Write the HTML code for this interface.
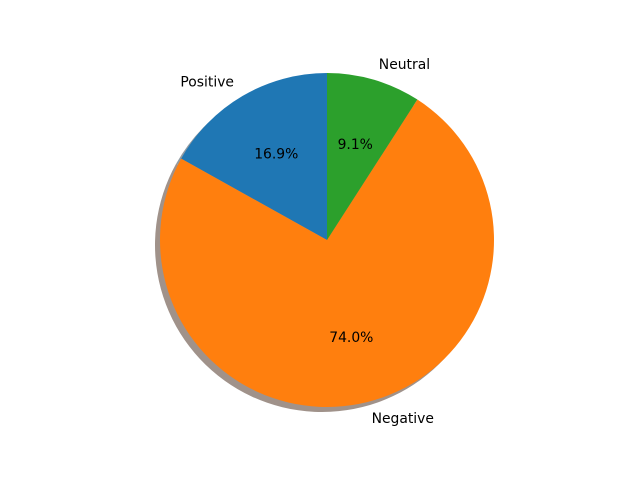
<!DOCTYPE html>
<html><head><meta charset="utf-8"><style>
html,body{margin:0;padding:0;background:#fff;}
svg{display:block;font-family:"DejaVu Sans","Liberation Sans",sans-serif;}
</style></head><body>
<svg id="chart" width="640" height="480" viewBox="0 0 640 480">
<rect width="640" height="480" fill="#fff"/>
<g id="shadows"></g>
<g id="wedges"></g>
<g id="labels"></g>
</svg>
<script>
const categories = ["Positive", "Negative", "Neutral"];
const values = [16.9, 74.0, 9.1];
const colors = ["#1f77b4", "#ff7f0e", "#2ca02c"];
const shadowColors = ["#8f9aa2", "#a0928a", "#969c8e"];
const cx = 327, cy = 240, R = 167, startAngle = 90;
const NS = "http://www.w3.org/2000/svg";
const total = values.reduce((a,b)=>a+b,0);
function pt(deg, r, ox, oy){const a=deg*Math.PI/180;return [cx+ox+r*Math.cos(a), cy+oy-r*Math.sin(a)];}
function arc(a0,a1,ox,oy){
  const p0=pt(a0,R,ox,oy), p1=pt(a1,R,ox,oy);
  const large=(a1-a0)>180?1:0;
  return `M${cx+ox},${cy+oy} L${p0[0]},${p0[1]} A${R},${R} 0 ${large} 0 ${p1[0]},${p1[1]} Z`;
}
const sg=document.getElementById('shadows'), wg=document.getElementById('wedges'), lg=document.getElementById('labels');
let a=startAngle;
values.forEach((v,i)=>{
  const span=v/total*360, a0=a, a1=a+span, mid=(a0+a1)/2;
  const s=document.createElementNS(NS,'path');
  s.setAttribute('d',arc(a0,a1,-5,5));
  s.setAttribute('fill',shadowColors[i]);
  
  
  sg.appendChild(s);
  const w=document.createElementNS(NS,'path');
  w.setAttribute('d',arc(a0,a1,0,0));
  w.setAttribute('fill',colors[i]);
  
  
  wg.appendChild(w);
  const lp=pt(mid,R*1.1,0,0);
  const t=document.createElementNS(NS,'text');
  t.setAttribute('x',lp[0]); t.setAttribute('y',lp[1]+5);
  t.setAttribute('font-size','13.9');
  t.setAttribute('text-anchor',Math.cos(mid*Math.PI/180)<0?'end':'start');
  t.textContent=categories[i];
  
  
  lg.appendChild(t);
  const pp=pt(mid,R*0.6,0,0);
  const p=document.createElementNS(NS,'text');
  p.setAttribute('x',pp[0]); p.setAttribute('y',pp[1]+5);
  p.setAttribute('font-size','13.9');
  p.setAttribute('text-anchor','middle');
  p.textContent=v.toFixed(1)+'%';
  
  
  lg.appendChild(p);
  a=a1;
});
</script>
</body></html>
